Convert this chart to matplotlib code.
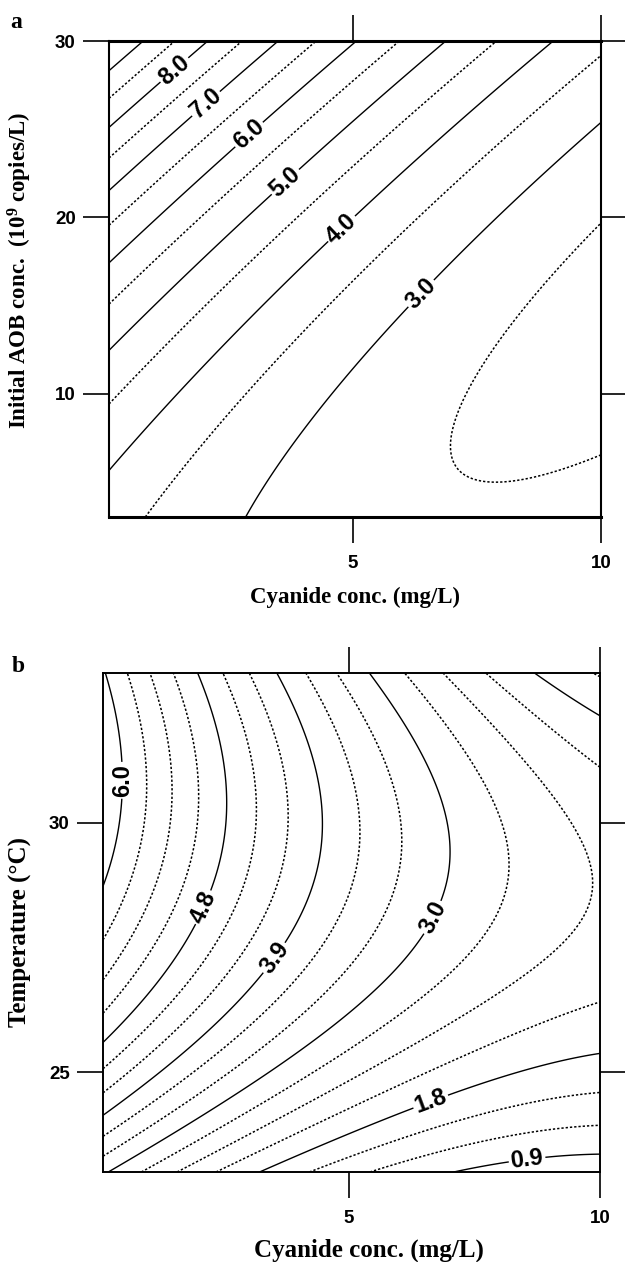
import numpy as np
import matplotlib
matplotlib.use("Agg")
import matplotlib.pyplot as plt

plt.rcParams['font.family'] = ['Liberation Sans', 'DejaVu Sans']
plt.rcParams['font.weight'] = 'bold'
plt.rcParams['mathtext.default'] = 'regular'

# ---- panel a: points (cyanide mg/L, AOB 1e9 copies/L, level)
a_cyanide = [0.1, 0.1, 0.1, 0.1, 0.1, 0.1, 0.1, 0.1, 0.1, 0.1, 0.1,
             0.79, 1.44, 2.08, 2.79, 3.49, 4.3, 5.06, 5.93, 6.87, 7.88, 9.02,
             10, 10, 10, 10,
             0.88, 2.87,
             6.89, 7.94, 8.66, 7.23, 6.07, 4.78, 8.24]
a_aob = [5.68, 9.6, 12.44, 15.0, 17.39, 19.55, 21.53, 23.41, 25.11, 26.76, 28.3,
         30, 30, 30, 30, 30, 30, 30, 30, 30, 30, 30,
         29.1, 25.34, 19.66, 6.48,
         3, 3,
         6.76, 4.83, 15.28, 9.72, 14.72, 10.57, 20.97]
a_level = [4.0, 4.5, 5.0, 5.5, 6.0, 6.5, 7.0, 7.5, 8.0, 8.5, 9.0,
           9.0, 8.5, 8.0, 7.5, 7.0, 6.5, 6.0, 5.5, 5.0, 4.5, 4.0,
           3.5, 3.0, 2.5, 2.5,
           3.5, 3.0,
           2.5, 2.5, 2.5, 2.5, 3.0, 3.0, 3.0]
a_dotted = [2.5, 3.5, 4.5, 5.5, 6.5, 7.5, 8.5]
a_solid = [9.0]
a_labels = [3.0, 4.0, 5.0, 6.0, 7.0, 8.0]
a_label_pos = [(6.21, 16.14), (4.62, 19.83), (3.49, 22.5), (2.79, 25.1), (1.9, 26.93), (1.28, 28.8)]

# ---- panel b: (cyanide mg/L, temperature C, level)
b_cyanide = [0.13, 0.6, 1.06, 1.51, 1.99, 2.47, 3.01, 3.57, 4.14, 4.76, 5.4, 6.08, 6.87, 7.69, 8.67, 9.92,
             0.24, 0.9, 1.57, 2.33, 3.21, 4.2, 5.48, 7.11,
             0.1, 0.1, 0.1, 0.1, 0.1, 0.1, 0.1, 0.1, 0.1, 0.1,
             10, 10, 10, 10, 10, 10, 10, 10,
             0.44, 9.88, 7.01, 4.48, 2.57]
b_temp = [33, 33, 33, 33, 33, 33, 33, 33, 33, 33, 33, 33, 33, 33, 33, 33,
          23, 23, 23, 23, 23, 23, 23, 23,
          28.69, 27.72, 26.87, 26.17, 25.6, 25.06, 24.6, 24.15, 23.71, 23.33,
          32.9, 32.16, 31.15, 26.37, 25.36, 24.6, 23.97, 23.37,
          30.1, 28.89, 29.44, 30.04, 30.16]
b_level = [6.0, 5.7, 5.4, 5.1, 4.8, 4.5, 4.2, 3.9, 3.6, 3.3, 3.0, 2.7, 2.4, 2.1, 1.8, 1.5,
           3.0, 2.7, 2.4, 2.1, 1.8, 1.5, 1.2, 0.9,
           6.0, 5.7, 5.4, 5.1, 4.8, 4.5, 4.2, 3.9, 3.6, 3.3,
           1.5, 1.8, 2.1, 2.1, 1.8, 1.5, 1.2, 0.9,
           6.0, 2.4, 3.0, 3.9, 4.8]
b_dotted = [1.2, 1.5, 2.1, 2.4, 2.7, 3.3, 3.6, 4.2, 4.5, 5.1, 5.4, 5.7]
b_solid = []
b_labels = [0.9, 1.8, 3.0, 3.9, 4.8, 6.0]
b_label_pos = [(8.53, 23.39), (6.61, 24.46), (6.71, 28.08), (3.53, 27.28), (2.13, 28.29), (0.44, 30.85)]


def quad_fit(x, y, z):
    x, y, z = np.asarray(x, float), np.asarray(y, float), np.asarray(z, float)
    A = np.column_stack([np.ones_like(x), x, y, x * y, x ** 2, y ** 2])
    return np.linalg.lstsq(A, z, rcond=None)[0]


def surface(c, X, Y):
    return c[0] + c[1] * X + c[2] * Y + c[3] * X * Y + c[4] * X ** 2 + c[5] * Y ** 2


def draw_panel(ax, xs, ys, zs, xlim, ylim, dotted, solid, labels, label_pos):
    coef = quad_fit(xs, ys, zs)
    X, Y = np.meshgrid(np.linspace(xlim[0], xlim[1], 300), np.linspace(ylim[0], ylim[1], 300))
    Z = surface(coef, X, Y)
    ax.contour(X, Y, Z, levels=dotted, colors='black', linewidths=1.1,
               linestyles=[(0, (1.5, 1.3))])
    if solid:
        ax.contour(X, Y, Z, levels=solid, colors='black', linewidths=1.0)
    cs = ax.contour(X, Y, Z, levels=labels, colors='black', linewidths=1.0)
    txts = ax.clabel(cs, manual=label_pos, fmt='%.1f', fontsize=17, inline=True, inline_spacing=2)
    for t in txts:
        t.set_fontweight('heavy')
    ax.set_xlim(xlim)
    ax.set_ylim(ylim)


fig = plt.figure(figsize=(6.25, 12.62), dpi=100)
ax1 = fig.add_axes([0.1744, 0.5903, 0.7872, 0.3772])
ax2 = fig.add_axes([0.1648, 0.0713, 0.7952, 0.3954])

draw_panel(ax1, a_cyanide, a_aob, a_level, (0.1, 10), (3, 30), a_dotted, a_solid, a_labels, a_label_pos)
draw_panel(ax2, b_cyanide, b_temp, b_level, (0.1, 10), (23, 33), b_dotted, b_solid, b_labels, b_label_pos)

ax1.set_xticks([5, 10])
ax1.set_yticks([10, 20, 30])
ax2.set_xticks([5, 10])
ax2.set_yticks([25, 30])

serif = dict(family='Liberation Serif', weight='bold')
ax1.set_xlabel('Cyanide conc. (mg/L)', fontsize=16.5, **serif)
ax1.set_ylabel('Initial AOB conc.  (10$^{9}$ copies/L)', fontsize=16.5, **serif)
ax2.set_xlabel('Cyanide conc. (mg/L)', fontsize=18, **serif)
ax2.set_ylabel('Temperature (°C)', fontsize=18, **serif)

ax1.xaxis.set_label_coords(0.5, -0.168)
ax1.yaxis.set_label_coords(-0.181, 0.519)
ax2.xaxis.set_label_coords(0.535, -0.156)
ax2.yaxis.set_label_coords(-0.167, 0.481)
for ax in (ax1, ax2):
    ax.xaxis.label.set_va('center')
    ax.yaxis.label.set_va('center')
    ax.tick_params(direction='out', length=19, width=1.2, top=True, right=True,
                   labelsize=13.5)
    ax.tick_params(axis='x', pad=8)
    ax.tick_params(axis='y', pad=5)

for side in ('top', 'bottom'):
    ax1.spines[side].set_linewidth(2.2)
for side in ('left', 'right'):
    ax1.spines[side].set_linewidth(1.5)
for side in ax2.spines:
    ax2.spines[side].set_linewidth(1.4)

fig.text(16 / 625, 1 - 23 / 1262, 'a', fontsize=17, ha='center', va='center', **serif)
fig.text(18 / 625, 1 - 667 / 1262, 'b', fontsize=17, ha='center', va='center', **serif)

fig.savefig('out.png', dpi=100)
